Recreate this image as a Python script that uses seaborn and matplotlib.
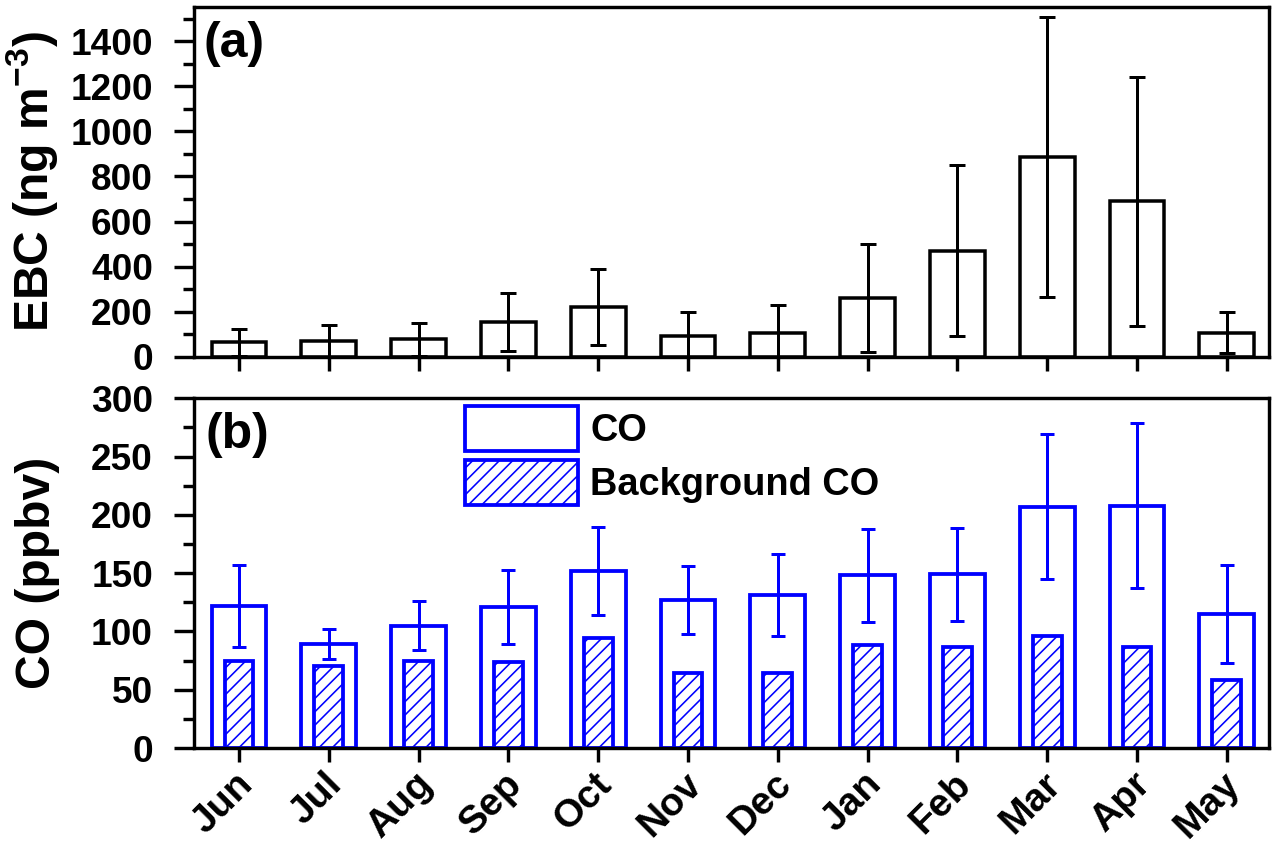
import numpy as np
import pandas as pd
import matplotlib
matplotlib.use("Agg")
import matplotlib.pyplot as plt
import matplotlib.patches as mpatches
import matplotlib.transforms as mtransforms
from matplotlib.ticker import MultipleLocator
import seaborn as sns

# ---------------- data ----------------
months = ["Jun", "Jul", "Aug", "Sep", "Oct", "Nov", "Dec", "Jan", "Feb", "Mar", "Apr", "May"]
ebc_mean = [64, 68, 77, 154, 222, 92, 107, 262, 471, 886, 689, 107]
ebc_sd = [59, 73, 73, 130, 168, 105, 123, 240, 381, 622, 551, 90]
co_mean = [122, 89, 105, 121, 152, 127, 131, 148, 149, 207, 208, 115]
co_sd = [35, 13, 21, 32, 38, 29, 35, 40, 40, 62, 71, 42]
bg_co = [75, 70, 75, 74, 94, 64, 64, 88, 87, 96, 87, 58]

# ---------------- style ----------------
DPI = 80
def pt(px):
    return px * 72.0 / DPI

sns.set_style("ticks")
plt.rcParams["font.family"] = ["Liberation Sans", "DejaVu Sans"]
plt.rcParams["font.weight"] = "bold"
plt.rcParams["axes.labelweight"] = "bold"
plt.rcParams["text.color"] = "black"
plt.rcParams["axes.labelcolor"] = "black"
plt.rcParams["xtick.color"] = "black"
plt.rcParams["ytick.color"] = "black"
plt.rcParams["axes.edgecolor"] = "black"
plt.rcParams["mathtext.fontset"] = "custom"
plt.rcParams["mathtext.rm"] = "Liberation Sans:bold"
plt.rcParams["mathtext.bf"] = "Liberation Sans:bold"
plt.rcParams["mathtext.default"] = "bf"
plt.rcParams["hatch.linewidth"] = pt(1.6)

BLUE = "#0000FF"
W, H = 1276, 845
FS_TICK = pt(37)
FS_XTICK = pt(39)
FS_LAB = pt(48)
FS_PANEL = pt(50)
fs_leg_px = 38
FS_LEG = pt(fs_leg_px)

df = pd.DataFrame({"month": months, "ebc": ebc_mean, "co": co_mean, "bg": bg_co})

fig = plt.figure(figsize=(W / DPI, H / DPI), dpi=DPI)
left, right = 194, 1269
ax1 = fig.add_axes([left / W, 1 - 356.7 / H, (right - left) / W, (356.7 - 7) / H])
ax2 = fig.add_axes([left / W, 1 - 748 / H, (right - left) / W, (748 - 398.3) / H])

xpos = np.arange(len(months))

# ---------------- panel (a) ----------------
sns.barplot(data=df, x="month", y="ebc", order=months, ax=ax1, color="white",
            saturation=1, width=0.61, errorbar=None, edgecolor="black",
            linewidth=pt(3.5), zorder=2)
ax1.errorbar(xpos, ebc_mean, yerr=ebc_sd, fmt="none", ecolor="black",
             elinewidth=pt(3), capsize=pt(8), capthick=pt(3), zorder=3)
ax1.set_ylim(0, 1552)
ax1.yaxis.set_major_locator(MultipleLocator(200))
ax1.yaxis.set_minor_locator(MultipleLocator(100))
ax1.set_ylabel("EBC (ng m$^{-3}$)", fontsize=FS_LAB)
ax1.set_xlabel("")
ax1.tick_params(axis="x", labelbottom=False)
ax1.text(0.009, 1 - 14 / 349.7, "(a)", transform=ax1.transAxes, ha="left", va="top",
         fontsize=FS_PANEL, fontweight="bold")

# ---------------- panel (b) ----------------
sns.barplot(data=df, x="month", y="co", order=months, ax=ax2, color="white",
            saturation=1, width=0.61, errorbar=None, edgecolor=BLUE,
            linewidth=pt(3.8), zorder=2)
sns.barplot(data=df, x="month", y="bg", order=months, ax=ax2, color="white",
            saturation=1, width=0.32, errorbar=None, edgecolor=BLUE,
            linewidth=pt(3.8), hatch="//", zorder=2)
ax2.errorbar(xpos, co_mean, yerr=co_sd, fmt="none", ecolor=BLUE,
             elinewidth=pt(3), capsize=pt(7), capthick=pt(3), zorder=3)
ax2.set_ylim(0, 300)
ax2.yaxis.set_major_locator(MultipleLocator(50))
ax2.yaxis.set_minor_locator(MultipleLocator(25))
ax2.set_ylabel("CO (ppbv)", fontsize=FS_LAB)
ax2.set_xlabel("")
ax2.text(0.011, 1 - 14 / 349.7, "(b)", transform=ax2.transAxes, ha="left", va="top",
         fontsize=FS_PANEL, fontweight="bold")

h_co = mpatches.Patch(facecolor="white", edgecolor=BLUE, linewidth=pt(3.8), label="CO")
h_bg = mpatches.Patch(facecolor="white", edgecolor=BLUE, linewidth=pt(3.8), hatch="//",
                      label="Background CO")
leg = ax2.legend(handles=[h_co, h_bg], loc="upper left",
                 bbox_to_anchor=((465 - left) / (right - left), (748 - 405.7) / 349.7),
                 frameon=False, borderpad=0, borderaxespad=0,
                 handlelength=113 / fs_leg_px, handleheight=55 / fs_leg_px,
                 labelspacing=9 / fs_leg_px, handletextpad=12 / fs_leg_px,
                 prop={"size": FS_LEG, "weight": "bold"})

# ---------------- common axis styling ----------------
for ax in (ax1, ax2):
    ax.set_xlim(-0.5, 11.47)
    for s in ax.spines.values():
        s.set_visible(True)
        s.set_linewidth(pt(3.4))
        s.set_color("black")
        s.set_zorder(5)
    ax.tick_params(axis="y", which="major", direction="out", length=pt(20),
                   width=pt(3.4), labelsize=FS_TICK, pad=pt(21), colors="black")
    ax.tick_params(axis="y", which="minor", direction="out", length=pt(11),
                   width=pt(3.4), colors="black")
    ax.tick_params(axis="x", which="major", direction="out", length=pt(13.5),
                   width=pt(3.4), labelsize=FS_XTICK, colors="black")
    ax.tick_params(top=False, right=False, which="both")
    ax.yaxis.set_label_coords(-0.125, 0.5)
    for lab in ax.get_yticklabels():
        lab.set_fontweight("bold")

ax2.tick_params(axis="x", pad=pt(17))
shift = mtransforms.ScaledTranslation(8 / DPI, 0, fig.dpi_scale_trans)
for lab in ax2.get_xticklabels():
    lab.set_rotation(45)
    lab.set_ha("right")
    lab.set_va("center")
    lab.set_rotation_mode("anchor")
    lab.set_fontweight("bold")
    lab.set_transform(lab.get_transform() + shift)

fig.savefig("out.png", dpi=DPI, facecolor="white")
